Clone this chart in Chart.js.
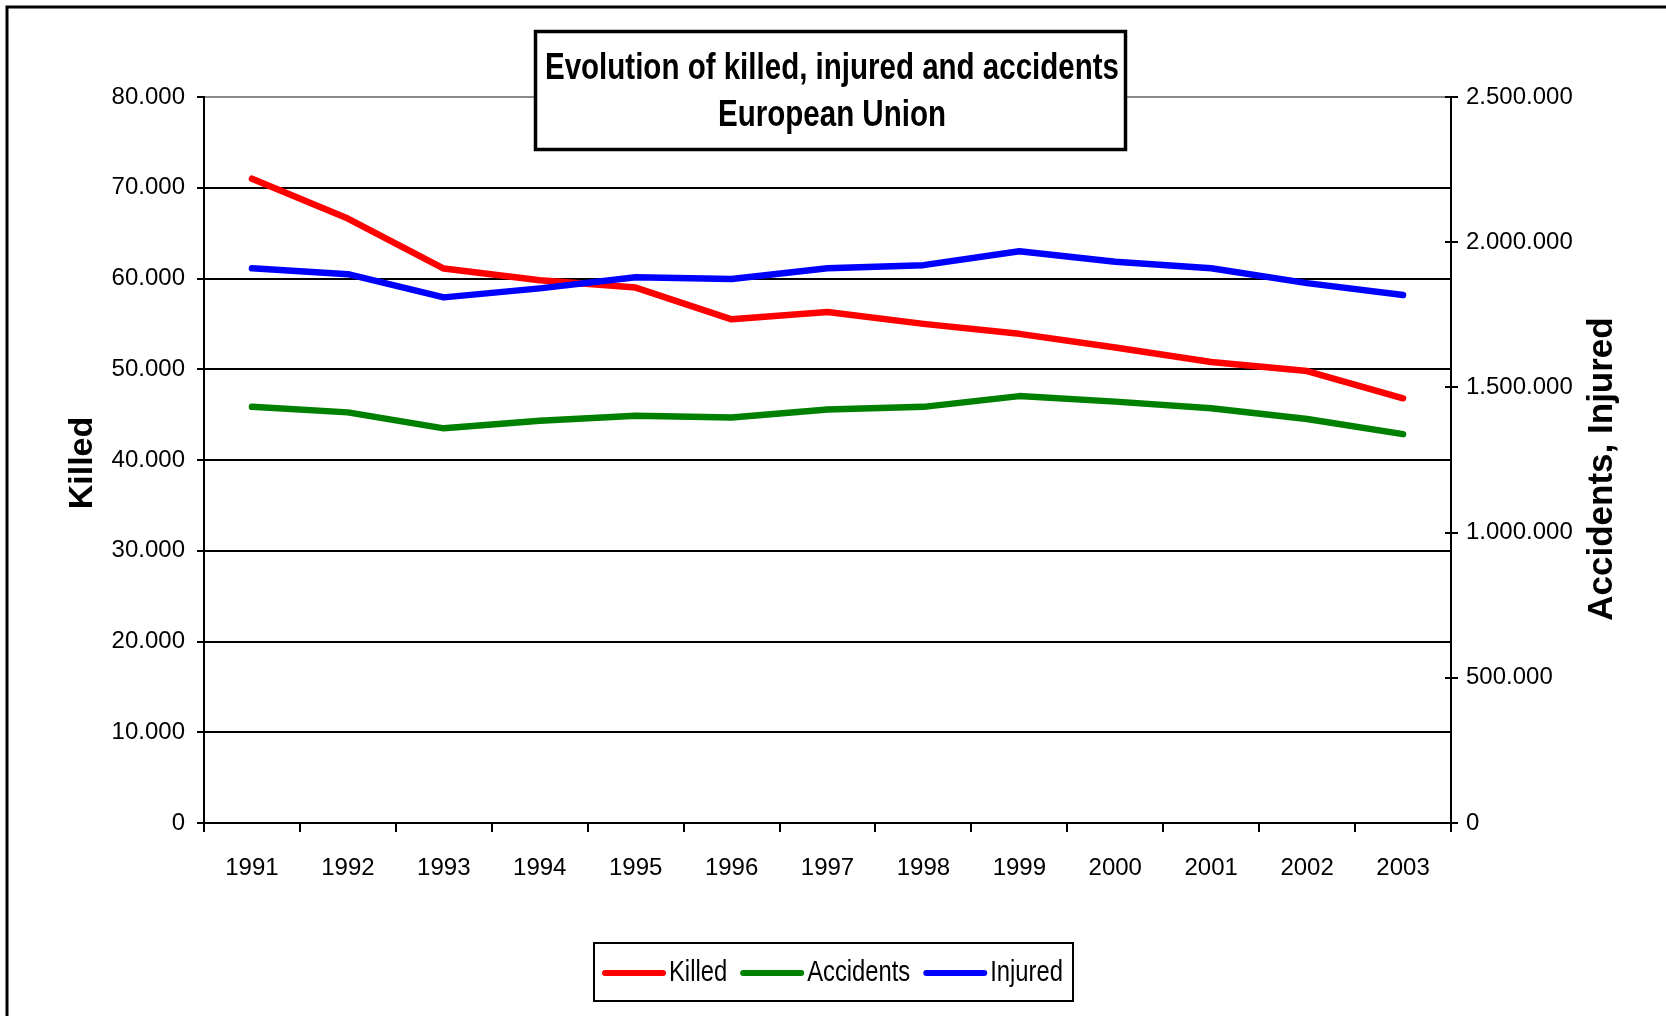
<!DOCTYPE html>
<html lang="en">
<head>
    <meta charset="UTF-8">
    <title>Evolution of killed, injured and accidents - European Union</title>
    <script src="https://cdn.jsdelivr.net/npm/chart.js"></script>
    <style>
        body { margin: 0; background: #fff; }
        #wrap { width: 1666px; height: 1016px; }
    </style>
</head>
<body>
    <div id="wrap">
        <canvas id="Chart"></canvas>
    </div>

    <script>
        // values
        const years = ['1991', '1992', '1993', '1994', '1995', '1996', '1997', '1998', '1999', '2000', '2001', '2002', '2003'];
        const killed = [71000, 66600, 61100, 59800, 59000, 55500, 56300, 55000, 53900, 52400, 50800, 49800, 46800];
        const accidents = [1433000, 1414000, 1359000, 1385000, 1402000, 1396000, 1424000, 1433000, 1470000, 1451000, 1428000, 1391000, 1339000];
        const injured = [1910000, 1890000, 1810000, 1841000, 1879000, 1873000, 1910000, 1921000, 1969000, 1933000, 1910000, 1859000, 1818000];
        const seriesNames = ['Killed', 'Accidents', 'Injured'];
        const seriesColors = ['#ff0000', '#008000', '#0000ff'];
        const titleLines = ['Evolution of killed, injured and accidents', 'European Union'];

        const sans = "'Liberation Sans', Arial, sans-serif";
        const squeeze = 0.82; // no narrow face installed, so squeeze the regular one

        // 70000 -> "70.000"
        function fmt(v) {
            return String(v).replace(/\B(?=(\d{3})+(?!\d))/g, '.');
        }

        function narrowText(c, text, x, y, align) {
            c.save();
            c.translate(x, y);
            c.scale(squeeze, 1);
            c.textAlign = align;
            c.fillText(text, 0, 0);
            c.restore();
        }

        const decor = {
            id: 'decor',
            beforeDraw(chart) {
                const c = chart.ctx;
                c.save();
                c.fillStyle = '#fff';
                c.fillRect(0, 0, chart.width, chart.height);
                c.restore();
            },
            afterDraw(chart) {
                const c = chart.ctx;
                const area = chart.chartArea;
                c.save();

                // outer frame (cut off at right and bottom in the original)
                c.strokeStyle = '#000';
                c.lineWidth = 3;
                c.strokeRect(7, 7, 1800, 1200);

                // little inner ticks on the right axis
                const y1 = chart.scales.y1;
                c.lineWidth = 2;
                y1.ticks.forEach(t => {
                    const py = Math.round(y1.getPixelForValue(t.value));
                    c.beginPath();
                    c.moveTo(area.right - 6, py);
                    c.lineTo(area.right, py);
                    c.stroke();
                });

                // title box
                c.fillStyle = '#fff';
                c.fillRect(534, 30, 593, 121);
                c.lineWidth = 3.5;
                c.strokeRect(535.5, 31.5, 590, 118);
                c.fillStyle = '#000';
                c.font = 'bold 36px ' + sans;
                c.textBaseline = 'alphabetic';
                narrowText(c, titleLines[0], 832, 79, 'center');
                narrowText(c, titleLines[1], 832, 126, 'center');

                // axis titles, both read bottom to top
                c.font = 'bold 34px ' + sans;
                c.textAlign = 'center';
                c.textBaseline = 'middle';
                c.save();
                c.translate(83, 463);
                c.rotate(-Math.PI / 2);
                c.fillText('Killed', 0, 0);
                c.restore();
                c.save();
                c.translate(1602, 469);
                c.rotate(-Math.PI / 2);
                c.font = 'bold 35px ' + sans;
                c.fillText('Accidents, Injured', 0, 0);
                c.restore();

                // legend box
                const bx = 594, by = 943, bw = 479, bh = 58;
                c.lineWidth = 2;
                c.strokeStyle = '#000';
                c.strokeRect(bx, by, bw, bh);
                c.font = '29px ' + sans;
                const sample = 64, gapA = 3, gapB = 13;
                const ds = chart.data.datasets;
                let x = bx + 8;
                const my = by + bh / 2 + 1;
                ds.forEach(d => {
                    c.strokeStyle = d.borderColor;
                    c.lineWidth = 6;
                    c.lineCap = 'round';
                    c.beginPath();
                    c.moveTo(x + 3, my);
                    c.lineTo(x + sample - 3, my);
                    c.stroke();
                    x += sample + gapA;
                    c.fillStyle = '#000';
                    narrowText(c, d.label, x, my, 'left');
                    x += c.measureText(d.label).width * squeeze + gapB;
                });

                c.restore();
            }
        };

        function createChart() {
            const ctx = document.getElementById('Chart');
            const series = [killed, accidents, injured];
            const axes = ['y', 'y1', 'y1'];
            const datasets = series.map((data, i) => ({
                label: seriesNames[i],
                data: data,
                yAxisID: axes[i],
                borderColor: seriesColors[i],
                backgroundColor: seriesColors[i],
                borderWidth: 6.5,
                pointRadius: 0,
                tension: 0,
                borderCapStyle: 'round',
                borderJoinStyle: 'round',
                fill: false,
                order: 3 - i
            }));

            new Chart(ctx, {
                type: 'line',
                data: { labels: years, datasets: datasets },
                plugins: [decor],
                options: {
                    responsive: true,
                    maintainAspectRatio: false,
                    animation: false,
                    layout: { padding: { top: 97, left: 0, right: 0, bottom: 0 } },
                    plugins: {
                        legend: { display: false },
                        title: { display: false },
                        tooltip: { enabled: false }
                    },
                    scales: {
                        x: {
                            offset: true,
                            afterFit: s => { s.height = 193; },
                            grid: {
                                offset: true,
                                drawOnChartArea: false,
                                color: '#000',
                                lineWidth: 2,
                                tickLength: 9
                            },
                            border: { color: '#000', width: 2 },
                            ticks: {
                                color: '#000',
                                padding: 22,
                                maxRotation: 0,
                                font: { family: sans, size: 24 }
                            }
                        },
                        y: {
                            position: 'left',
                            min: 0,
                            max: 80000,
                            afterFit: s => { s.width = 204; },
                            grid: {
                                color: c => c.tick && c.tick.value === 80000 ? '#8a8a8a' : '#000',
                                tickColor: '#000',
                                lineWidth: 2,
                                tickLength: 7
                            },
                            border: { color: '#000', width: 2 },
                            ticks: {
                                stepSize: 10000,
                                color: '#000',
                                padding: 12,
                                font: { family: sans, size: 24 },
                                callback: v => fmt(v)
                            }
                        },
                        y1: {
                            position: 'right',
                            min: 0,
                            max: 2500000,
                            afterFit: s => { s.width = 215; },
                            grid: {
                                drawOnChartArea: false,
                                color: '#000',
                                lineWidth: 2,
                                tickLength: 7
                            },
                            border: { color: '#000', width: 2 },
                            ticks: {
                                stepSize: 500000,
                                color: '#000',
                                padding: 8,
                                font: { family: sans, size: 24 },
                                callback: v => fmt(v)
                            }
                        }
                    }
                }
            });
        }
        createChart();
    </script>
</body>
</html>
